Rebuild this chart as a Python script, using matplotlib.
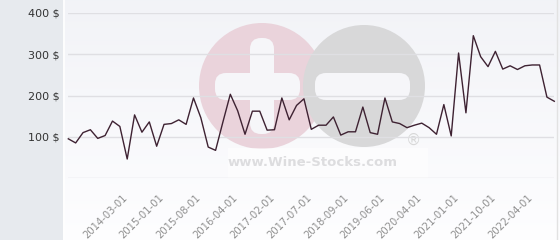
import numpy as np
import matplotlib
matplotlib.use("Agg")
import matplotlib.pyplot as plt
import matplotlib.transforms as mtransforms
from matplotlib.patches import Circle, FancyBboxPatch, Rectangle

# price history, one value per sample (category axis)
prices = [95, 85, 110, 117, 96, 103, 138, 125, 46, 153,
          111, 136, 77, 130, 132, 141, 130, 194, 146, 75,
          67, 136, 203, 163, 106, 162, 162, 116, 117, 194,
          141, 176, 192, 118, 128, 128, 148, 104, 112, 112,
          172, 110, 106, 194, 136, 132, 122, 128, 133, 122,
          106, 178, 102, 303, 158, 345, 294, 270, 307, 264,
          272, 263, 272, 274, 274, 196, 186]
tick_labels = ["2014-03-01", "2015-01-01", "2015-08-01", "2016-04-01",
               "2017-02-01", "2017-07-01", "2018-09-01", "2019-06-01",
               "2020-04-01", "2021-01-01", "2021-10-01", "2022-04-01"]
tick_pos = list(range(8, 8 + 5 * len(tick_labels), 5))
y_ticks = [0, 100, 200, 300, 400]

W, H = 560, 240
fig = plt.figure(figsize=(W / 100, H / 100), dpi=100, facecolor="#e7eaee")

# panel background (soft vertical gradient)
bg = fig.add_axes([63 / W, 0, (W - 63) / W, 1])
grad = np.linspace(0, 1, 256).reshape(-1, 1)
top = np.array([0.949, 0.953, 0.969])
bot = np.array([0.995, 0.995, 1.0])
img = top + (bot - top) * grad[..., None]
bg.imshow(img, aspect="auto", extent=[0, 1, 0, 1], origin="upper")
bg.set_axis_off()
fig.add_artist(plt.Line2D([63.5 / W] * 2, [0, 1], color="white", lw=1.2))
fig.add_artist(plt.Line2D([557 / W] * 2, [0, 1], color="#e2e2e2", lw=1))

# watermark, in pixel coordinates
wm = fig.add_axes([0, 0, 1, 1], zorder=1)
wm.set_xlim(0, W)
wm.set_ylim(H, 0)
wm.set_axis_off()
wm.patch.set_alpha(0)
wm.add_patch(Circle((262, 86), 63, color="#ead3db", lw=0))
wm.add_patch(Circle((364, 86), 61, color="#d8d8d9", lw=0))
for x0, y0, w, h in [(250, 38, 24, 96), (215, 73, 85, 27), (315, 73, 95, 27)]:
    wm.add_patch(FancyBboxPatch((x0, y0), w, h, boxstyle="round,pad=0,rounding_size=11",
                                color="#f6f6f9", lw=0))
wm.add_patch(Rectangle((228, 148), 200, 30, color="white", alpha=0.5, lw=0))
wm.text(313, 162, "www.Wine-Stocks.com", ha="center", va="center",
        fontsize=9.5, fontweight="bold", color="#dddddf")
wm.text(413, 140, "®", ha="center", va="center", fontsize=11, color="#d8d8d8")

# main chart
left, right = 68.3, 554.3
bottom, topy = 178, 13
ax = fig.add_axes([left / W, 1 - bottom / H, (right - left) / W, (bottom - topy) / H], zorder=2)
ax.patch.set_alpha(0)
ax.set_xlim(0, len(prices) - 1)
ax.set_ylim(0, 400)
for v in y_ticks:
    ax.axhline(v, color="#dfdfe3", lw=1, zorder=1)
ax.plot(range(len(prices)), prices, color="#3e2232", lw=1, zorder=3, clip_on=False)

for s in ax.spines.values():
    s.set_visible(False)
ax.set_yticks(y_ticks[1:])
ax.set_yticklabels([f"{v} $" for v in y_ticks[1:]], fontsize=8, color="#333333")
ax.tick_params(axis="y", length=0, pad=6)
ax.set_xticks(tick_pos)
ax.set_xticklabels(tick_labels, rotation=45, ha="right", va="center",
                   rotation_mode="anchor", fontsize=7.2, color="#8f8f8f")
ax.tick_params(axis="x", length=0, pad=13)
shift = mtransforms.ScaledTranslation(-1.5 / 100, 0, fig.dpi_scale_trans)
for lab in ax.get_xticklabels():
    lab.set_transform(lab.get_transform() + shift)

fig.savefig("out.png", dpi=100, facecolor=fig.get_facecolor())
